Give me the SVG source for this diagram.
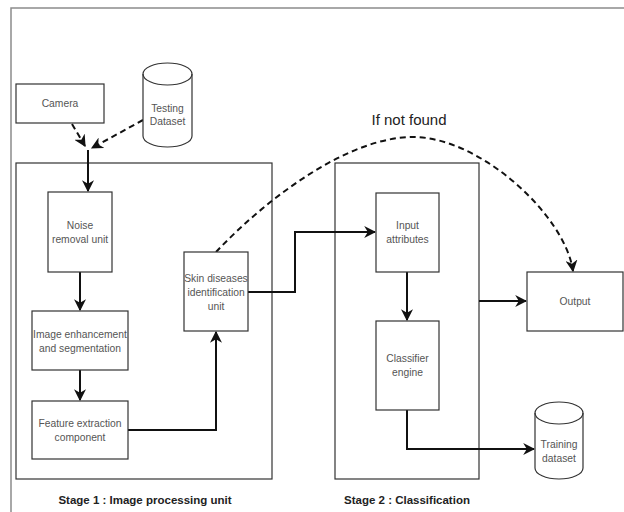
<svg xmlns="http://www.w3.org/2000/svg" width="624" height="512" viewBox="0 0 624 512">
<style>
.box{fill:#fff;stroke:#333;stroke-width:1.2}
.cont{fill:none;stroke:#333;stroke-width:1.2}
.t{font-family:"Liberation Sans",Arial,sans-serif;font-size:10.3px;fill:#555;text-anchor:middle}
.st{font-family:"Liberation Sans",Arial,sans-serif;font-size:11.5px;font-weight:bold;fill:#222;text-anchor:middle}
.lab{font-family:"Liberation Sans",Arial,sans-serif;font-size:15px;fill:#222;text-anchor:middle}
.c{fill:none;stroke:#111;stroke-width:2}
.d{fill:none;stroke:#111;stroke-width:2;stroke-dasharray:6 4}
</style>
<defs>
<marker id="ah" viewBox="0 0 10 10" refX="9" refY="5" markerWidth="6" markerHeight="6" orient="auto" markerUnits="strokeWidth">
<path d="M0,0 L10,5 L0,10 L3,5 Z" fill="#111"/>
</marker>
</defs>
<rect width="624" height="512" fill="#fff"/>
<path d="M11,512 V8 H624" fill="none" stroke="#8c8c8c" stroke-width="1.5"/>
<g id="stage1"><rect class="cont" x="16" y="163" width="256" height="316"/><text class="st" x="145" y="504">Stage 1 : Image processing unit</text></g>
<g id="stage2"><rect class="cont" x="335" y="163" width="144" height="316"/><text class="st" x="407" y="504">Stage 2 : Classification</text></g>
<g id="connectors">
<path class="d" d="M72,124 L85,146" marker-end="url(#ah)"/>
<path class="d" d="M143,120 L92,148" marker-end="url(#ah)"/>
<path class="c" d="M88,150 V191" marker-end="url(#ah)"/>
<path class="c" d="M80,272 V310" marker-end="url(#ah)"/>
<path class="c" d="M80,370 V400" marker-end="url(#ah)"/>
<path class="c" d="M128,430 H216 V332" marker-end="url(#ah)"/>
<path class="c" d="M248,292 H295 V232 H375" marker-end="url(#ah)"/>
<path class="c" d="M407,272 V320" marker-end="url(#ah)"/>
<path class="c" d="M479,301 H526" marker-end="url(#ah)"/>
<path class="c" d="M407,410 V449 H534" marker-end="url(#ah)"/>
<path class="d" d="M216,252 C270,195 350,137 413,137 C480,137 565,215 573,271" marker-end="url(#ah)"/>
<text class="lab" x="409" y="125">If not found</text>
</g>
<g id="camera"><rect class="box" x="16" y="84" width="88" height="39"/><text class="t" x="60" y="107">Camera</text></g>
<g id="testing"><path class="box" d="M143,74 a24.5,11 0 0 1 49,0 V136 a24.5,11 0 0 1 -49,0 Z"/><path class="cont" d="M143,74 a24.5,11 0 0 0 49,0"/><text class="t" x="167.5" y="112">Testing</text><text class="t" x="167.5" y="125">Dataset</text></g>
<g id="noise"><rect class="box" x="48" y="192" width="64" height="80"/><text class="t" x="80" y="229">Noise</text><text class="t" x="80" y="243">removal unit</text></g>
<g id="enh"><rect class="box" x="32" y="311" width="96" height="59"/><text class="t" x="80" y="338">Image enhancement</text><text class="t" x="80" y="352">and segmentation</text></g>
<g id="feat"><rect class="box" x="32" y="401" width="96" height="58"/><text class="t" x="80" y="427">Feature extraction</text><text class="t" x="80" y="441">component</text></g>
<g id="skin"><rect class="box" x="184" y="252" width="64" height="79"/><text class="t" x="216" y="282">Skin diseases</text><text class="t" x="216" y="296">identification</text><text class="t" x="216" y="310">unit</text></g>
<g id="input"><rect class="box" x="376" y="193" width="63" height="79"/><text class="t" x="407.5" y="229">Input</text><text class="t" x="407.5" y="243">attributes</text></g>
<g id="classifier"><rect class="box" x="376" y="321" width="63" height="89"/><text class="t" x="407.5" y="362">Classifier</text><text class="t" x="407.5" y="376">engine</text></g>
<g id="output"><rect class="box" x="527" y="272" width="96" height="59"/><text class="t" x="575" y="305">Output</text></g>
<g id="training"><path class="box" d="M535,413 a24,11 0 0 1 48,0 V468 a24,11 0 0 1 -48,0 Z"/><path class="cont" d="M535,413 a24,11 0 0 0 48,0"/><text class="t" x="559" y="448">Training</text><text class="t" x="559" y="462">dataset</text></g>
</svg>
